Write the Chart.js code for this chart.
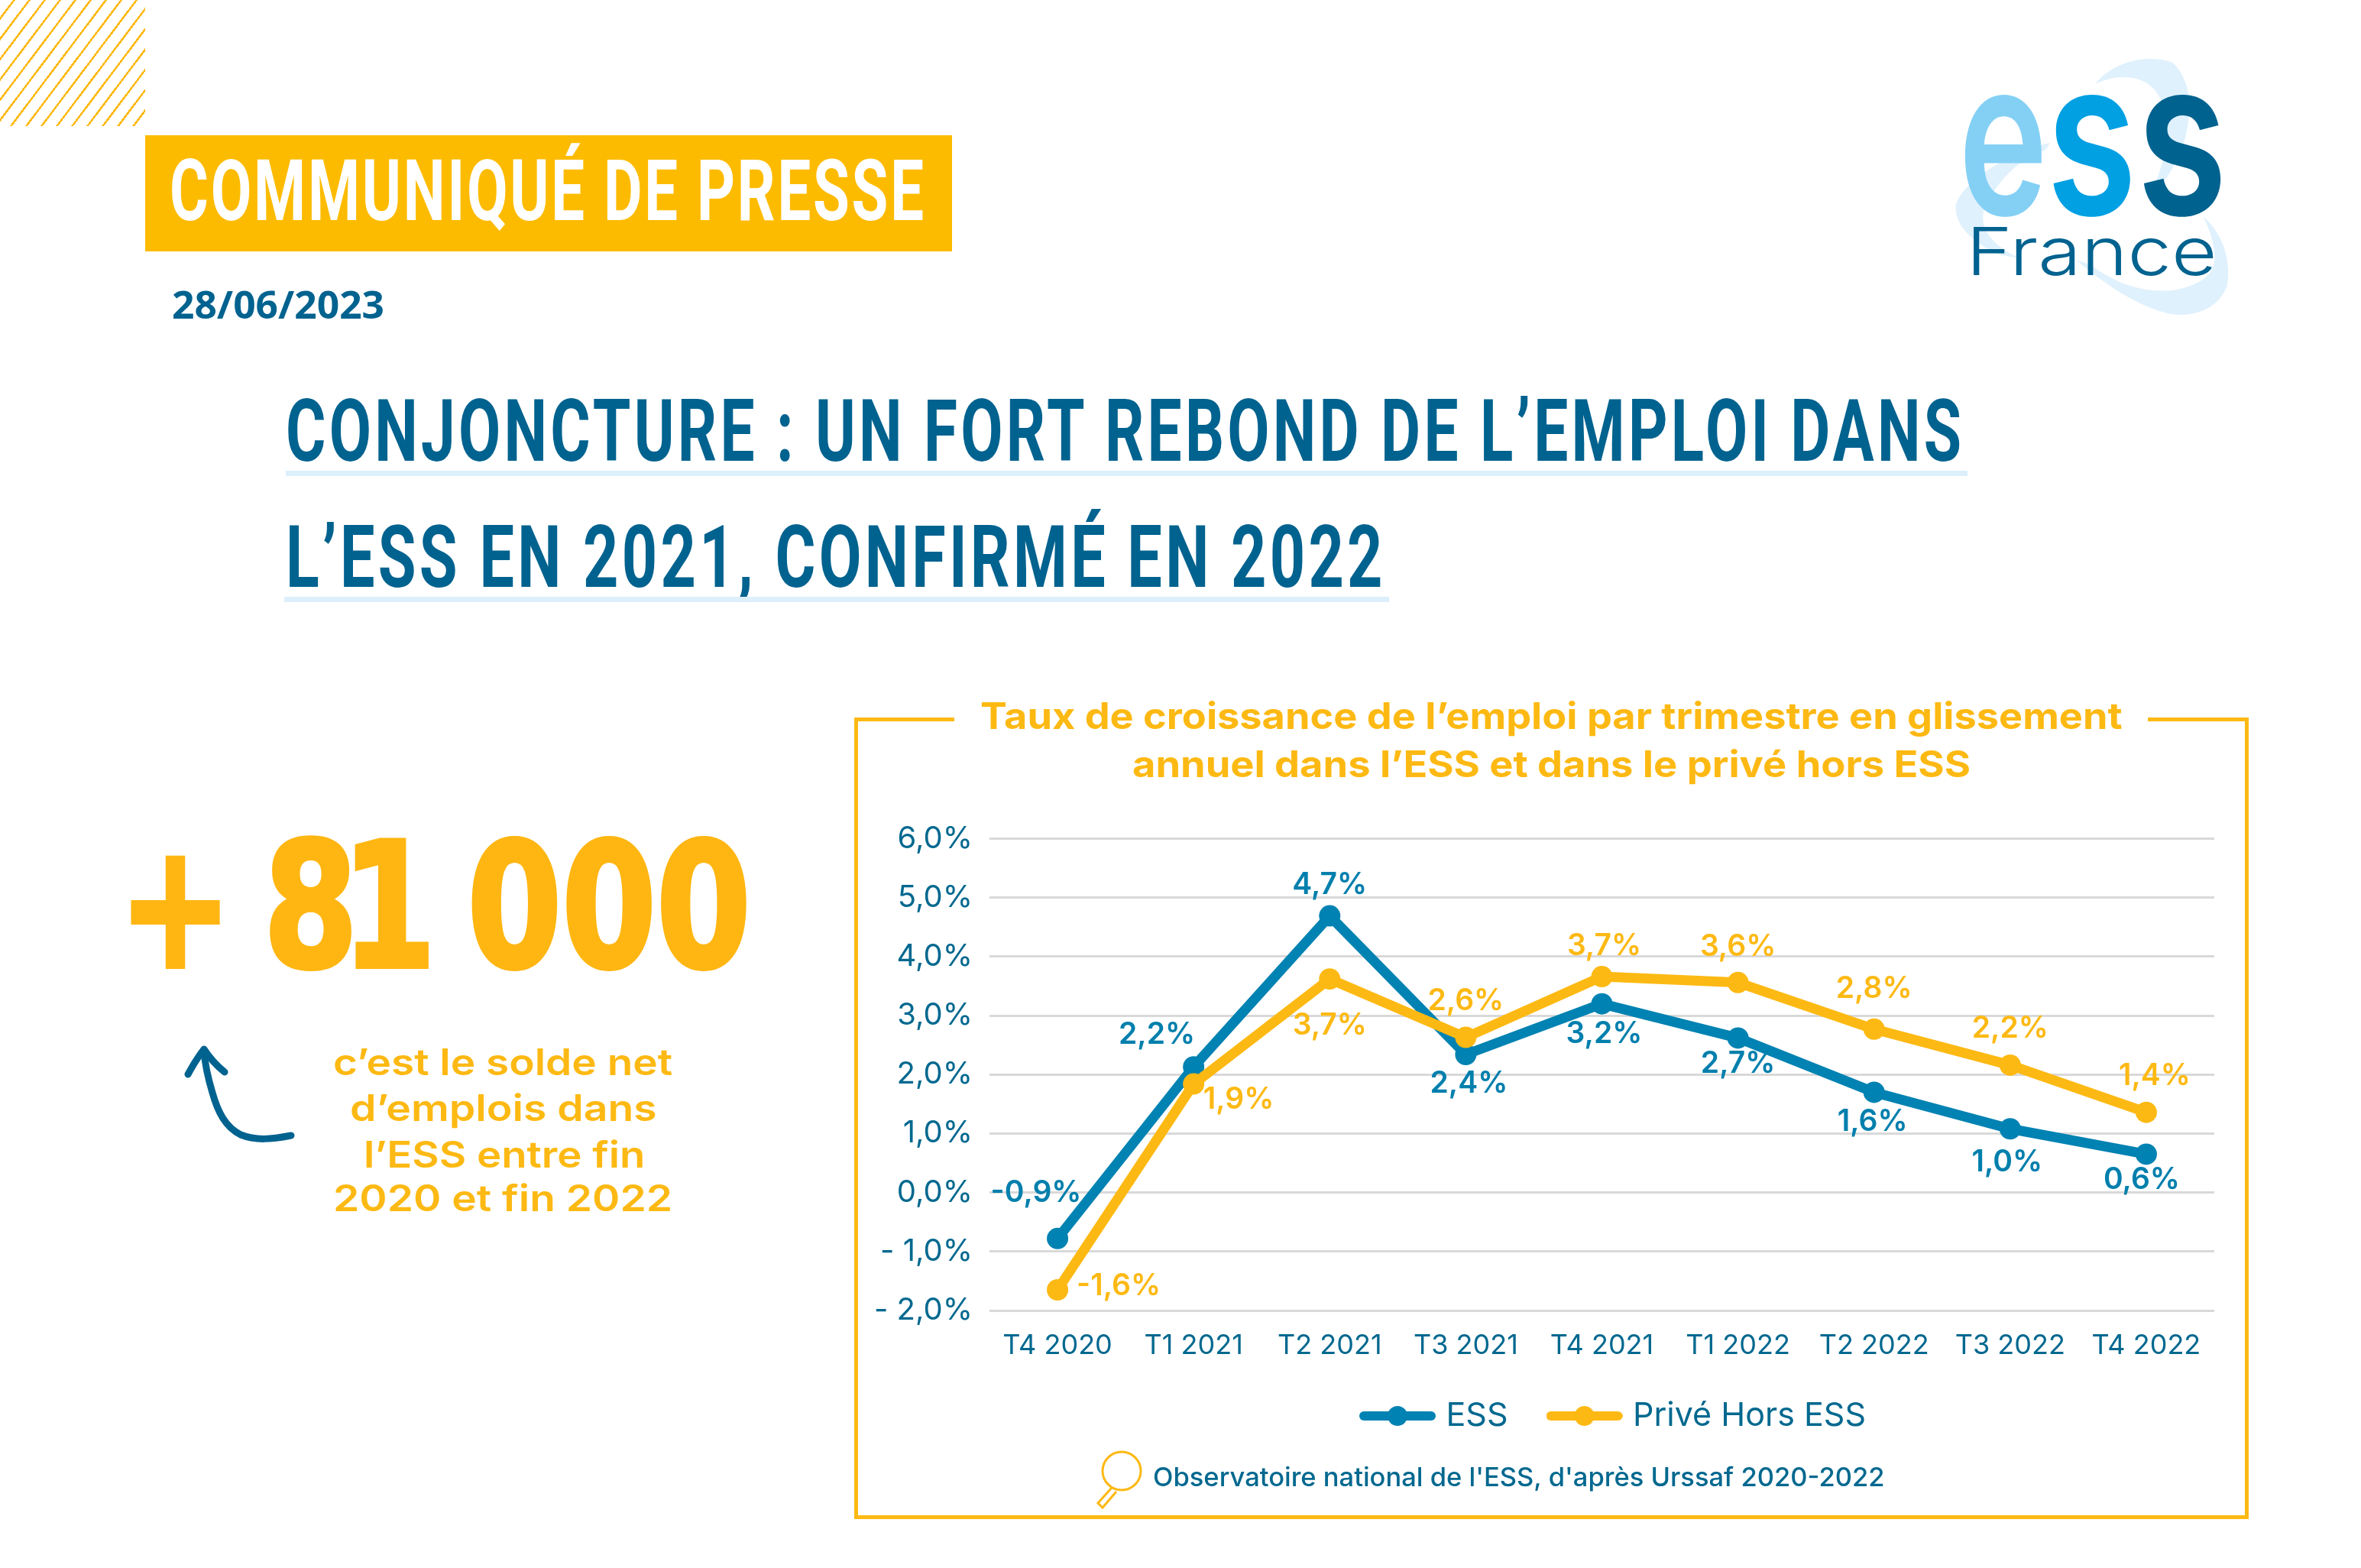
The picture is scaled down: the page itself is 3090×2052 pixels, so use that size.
<!DOCTYPE html>
<html lang="fr">
<head>
<meta charset="utf-8">
<title>Communiqué de presse ESS France</title>
<script src="https://cdn.jsdelivr.net/npm/chart.js@4/dist/chart.umd.js"></script>
<style>
    html, body { margin: 0; padding: 0; background: #fff; }
    #page { position: relative; width: 3090px; height: 2052px; overflow: hidden; font-family: Inter, sans-serif; }
    #page > * { position: absolute; }
    .fit { white-space: nowrap; transform-origin: left top; }
    .gold { color: #FDB913; }
    .blue { color: #00628F; }
    .rule { background: #DDEFFB; height: 7px; }
    .frame { background: #FDB913; }
</style>
</head>
<body>
<div id="page">
    <div style="left:0;top:0;width:190px;height:165px;background:repeating-linear-gradient(127deg,transparent 0 13.5px,#FDB913 13.5px 16px)"></div>
    <div style="left:190px;top:177px;width:1056px;height:152px;background:#FDBB00"></div>
    <div class="fit" data-w="990" style="left:222px;top:184px;color:#fff;font:700 112px Roboto;letter-spacing:4px">COMMUNIQUÉ DE PRESSE</div>
    <div class="fit blue" data-w="278" style="left:225px;top:364px;font:700 50px 'Open Sans'">28/06/2023</div>

    <svg style="left:2550px;top:40px" width="450" height="400" viewBox="0 0 1350 1200">
        <g fill="#DFF1FD">
            <path d="M575 210 C650 120 780 90 880 125 C950 190 960 300 930 420 C900 520 860 590 780 660 C840 560 870 440 850 320 C820 170 680 160 575 210 Z"/>
            <path d="M400 440 C250 470 60 590 30 680 C20 760 90 830 200 880 L280 895 C170 840 120 780 140 700 C190 590 280 500 380 470 Z"/>
            <path d="M1000 730 C1080 800 1110 900 1095 1000 C1060 1100 950 1130 860 1110 C740 1080 620 1000 500 900 L560 920 C650 990 760 1030 880 1020 C1000 1000 1050 950 1045 880 C1040 820 1020 770 1000 730 Z"/>
        </g>
        <g font-family="Inter" font-weight="600" font-size="850">
            <text x="40" y="722" textLength="350" lengthAdjust="spacingAndGlyphs" fill="#84D0F5">e</text>
            <text x="385" y="722" textLength="355" lengthAdjust="spacingAndGlyphs" fill="#00A0E3">s</text>
            <text x="740" y="722" textLength="355" lengthAdjust="spacingAndGlyphs" fill="#00628F">s</text>
        </g>
        <text x="70" y="960" textLength="985" lengthAdjust="spacingAndGlyphs" font-family="Inter" font-weight="300" font-size="261" fill="#00628F">France</text>
    </svg>

    <div class="fit blue" data-w="2197" style="left:374px;top:498px;font:700 113px Roboto;letter-spacing:6px">CONJONCTURE : UN FORT REBOND DE L’EMPLOI DANS</div>
    <div class="rule" style="left:374px;top:616px;width:2201px"></div>
    <div class="fit blue" data-w="1440" style="left:374px;top:663px;font:700 113px Roboto;letter-spacing:6px">L’ESS EN 2021, CONFIRMÉ EN 2022</div>
    <div class="rule" style="left:372px;top:781px;width:1446px"></div>

    <div class="fit" data-w="828" style="left:155px;top:1055px;color:#FFB612;font:700 226px 'DejaVu Sans';word-spacing:-.12em;-webkit-text-stroke:6px #FFB612">+ <span style="letter-spacing:-.12em">8</span>1 000</div>
    <svg style="left:230px;top:1360px" width="170" height="150" fill="none" stroke="#00628F" stroke-width="9" stroke-linecap="round" stroke-linejoin="round">
        <path d="M151 126 C125 131 105 133 85 125 C65 115 55 95 48 70 C42 50 38 30 37 15"/>
        <path d="M16 46 C22 35 30 22 37 13 C44 24 54 35 64 43"/>
    </svg>
    <div class="fit gold" data-w="444" style="left:436px;top:1360px;font:600 48px Inter">c’est le solde net</div>
    <div class="fit gold" data-w="402" style="left:458px;top:1420px;font:600 48px Inter">d’emplois dans</div>
    <div class="fit gold" data-w="368" style="left:476px;top:1481px;font:600 48px Inter">l’ESS entre fin</div>
    <div class="fit gold" data-w="444" style="left:436px;top:1538px;font:600 48px Inter">2020 et fin 2022</div>

    <!-- Frame around the chart, open at the top where the title sits -->
    <div class="frame" style="left:1118px;top:939px;width:131px;height:5px"></div>
    <div class="frame" style="left:2811px;top:939px;width:132px;height:5px"></div>
    <div class="frame" style="left:1118px;top:939px;width:5px;height:1048px"></div>
    <div class="frame" style="left:2938px;top:939px;width:5px;height:1048px"></div>
    <div class="frame" style="left:1118px;top:1983px;width:1825px;height:5px"></div>

    <div class="fit gold" data-w="1495" style="left:1283px;top:907px;font:700 48px Inter">Taux de croissance de l’emploi par trimestre en glissement</div>
    <div class="fit gold" data-w="1097" style="left:1482px;top:970px;font:700 48px Inter">annuel dans l’ESS et dans le privé hors ESS</div>

    <div style="left:1120px;top:941px;width:1821px;height:1045px"><canvas id="chart"></canvas></div>

    <svg style="left:1425px;top:1895px" width="75" height="85" fill="none" stroke="#FDB913" stroke-width="3">
        <ellipse cx="43" cy="30" rx="25" ry="25"/>
        <path d="M30 52 L12 72 L18 78 L36 57"/>
    </svg>
    <div class="fit" data-w="957" style="left:1509px;top:1912px;color:#00688F;font:500 34px Inter">Observatoire national de l'ESS, d'après Urssaf 2020-2022</div>
</div>

<script>
const quarters = ['T4 2020', 'T1 2021', 'T2 2021', 'T3 2021', 'T4 2021', 'T1 2022', 'T2 2022', 'T3 2022', 'T4 2022'];
const essValues = [-0.78, 2.13, 4.69, 2.34, 3.2, 2.62, 1.7, 1.08, 0.65];
const priveValues = [-1.65, 1.84, 3.62, 2.63, 3.66, 3.56, 2.77, 2.16, 1.36];
const essLabels = ['-0,9%', '2,2%', '4,7%', '2,4%', '3,2%', '2,7%', '1,6%', '1,0%', '0,6%'];
const priveLabels = ['-1,6%', '1,9%', '3,7%', '2,6%', '3,7%', '3,6%', '2,8%', '2,2%', '1,4%'];
const yTicks = { 6: '6,0%', 5: '5,0%', 4: '4,0%', 3: '3,0%', 2: '2,0%', 1: '1,0%', 0: '0,0%', '-1': '- 1,0%', '-2': '- 2,0%' };

// Label placement relative to each point, in pixels
const essOffsets = [[-28, -60], [-48, -42], [0, -40], [4, 38], [3, 40], [0, 34], [-2, 39], [-4, 44], [-6, 34]];
const priveOffsets = [[80, -5], [59, 21], [0, 61], [0, -47], [3, -40], [0, -47], [0, -53], [0, -48], [11, -47]];

const essColor = '#0082B2';
const priveColor = '#FDB913';
const textColor = '#00688F';

// Stretch or squeeze the page texts to the width they have on the picture
document.querySelectorAll('.fit').forEach(el => {
    el.style.transform = `scaleX(${el.dataset.w / el.offsetWidth})`;
});

// Legend swatch: a thick line with a dot in the middle
function legendSwatch(color) {
    const swatch = document.createElement('canvas');
    swatch.width = 100;
    swatch.height = 30;
    const ctx = swatch.getContext('2d');
    ctx.strokeStyle = color;
    ctx.fillStyle = color;
    ctx.lineWidth = 12;
    ctx.lineCap = 'round';
    ctx.beginPath();
    ctx.moveTo(6, 15);
    ctx.lineTo(94, 15);
    ctx.stroke();
    ctx.beginPath();
    ctx.arc(50, 15, 13, 0, Math.PI * 2);
    ctx.fill();
    return swatch;
}

// Chart.js has no data labels of its own, so they are drawn here
const pointLabels = {
    id: 'pointLabels',
    afterLayout(chart) {
        // Legend sits a little higher and further right than the layout puts it
        chart.legend.left += 18;
        chart.legend.right += 18;
        chart.legend.top -= 16.5;
        chart.legend.bottom -= 16.5;
    },
    afterDatasetsDraw(chart) {
        const ctx = chart.ctx;
        ctx.save();
        ctx.font = '600 39px Inter';
        ctx.textAlign = 'center';
        ctx.textBaseline = 'middle';
        chart.data.datasets.forEach((dataset, i) => {
            ctx.fillStyle = dataset.labelColor;
            chart.getDatasetMeta(i).data.forEach((point, j) => {
                const [dx, dy] = dataset.labelOffsets[j];
                ctx.fillText(dataset.pointLabels[j], point.x + dx, point.y + dy);
            });
        });
        ctx.restore();
    }
};

new Chart(document.getElementById('chart'), {
    type: 'line',
    data: {
        labels: quarters,
        datasets: [
            {
                label: 'ESS', data: essValues, pointLabels: essLabels, labelOffsets: essOffsets,
                labelColor: '#007FAD', borderColor: essColor, backgroundColor: essColor, order: 2
            },
            {
                label: 'Privé Hors ESS', data: priveValues, pointLabels: priveLabels, labelOffsets: priveOffsets,
                labelColor: priveColor, borderColor: priveColor, backgroundColor: priveColor, order: 1
            }
        ]
    },
    options: {
        responsive: true,
        maintainAspectRatio: false,
        animation: false,
        layout: { padding: { top: 156.5, right: 43, left: 0, bottom: 85 } },
        elements: {
            line: { borderWidth: 13, tension: 0, borderCapStyle: 'round', borderJoinStyle: 'round' },
            point: { radius: 14, borderWidth: 0 }
        },
        plugins: {
            tooltip: { enabled: false },
            legend: {
                position: 'bottom',
                fullSize: false,
                labels: {
                    usePointStyle: true,
                    pointStyleWidth: 84,
                    padding: 58,
                    color: textColor,
                    font: { family: 'Inter', size: 43 },
                    generateLabels: chart => chart.data.datasets.map((dataset, i) => ({
                        text: dataset.label,
                        datasetIndex: i,
                        fontColor: textColor,
                        pointStyle: legendSwatch(dataset.borderColor)
                    }))
                }
            }
        },
        scales: {
            x: {
                offset: true,
                grid: { display: false },
                border: { display: false },
                ticks: { color: textColor, padding: 17, maxRotation: 0, font: { family: 'Inter', size: 36 } },
                afterFit(scale) {
                    scale.height = 75;
                    scale.paddingLeft = 0;
                    scale.paddingRight = 0;
                }
            },
            y: {
                min: -2,
                max: 6,
                grid: { color: '#D9D9D9', lineWidth: 3, drawTicks: false },
                border: { display: false },
                ticks: {
                    stepSize: 1,
                    color: textColor,
                    padding: 22,
                    font: { family: 'Inter', size: 40 },
                    callback: value => yTicks[value]
                },
                afterFit(scale) {
                    scale.width = 175;
                    scale.paddingTop = 0;
                    scale.paddingBottom = 0;
                }
            }
        }
    },
    plugins: [pointLabels]
});
</script>
</body>
</html>
